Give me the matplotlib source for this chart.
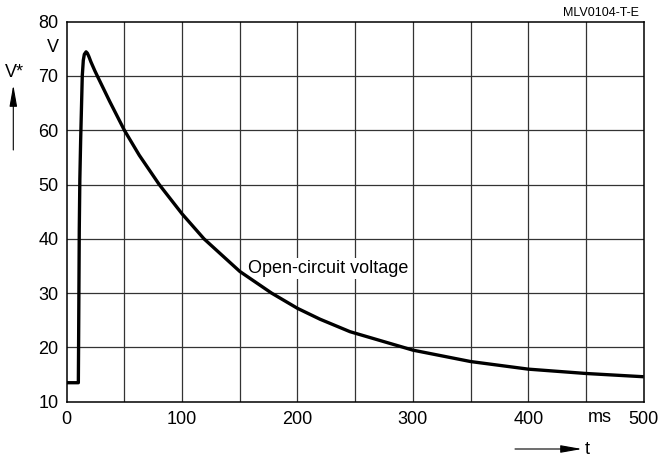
import matplotlib
matplotlib.use('Agg')
import matplotlib.pyplot as plt
from matplotlib.patches import FancyArrowPatch
import numpy as np

plt.rcParams['font.family'] = 'Liberation Sans'
fs_tick, fs_lab, fs_id = 13, 13, 9

# open-circuit voltage curve
t_ms = [0, 10.1, 10.3, 10.9, 11.4, 12.1, 13.5, 14.4, 15.3, 16.8, 17.9, 19.2,
        21, 24.3, 27, 37.3, 50, 62.9, 80.2, 100, 119, 150, 177.6, 200,
        219.5, 245.5, 300, 350, 400, 450, 500]
v_oc = [13.5, 13.5, 20, 41.6, 51, 58.2, 70, 72.9, 74.0, 74.45, 74.2, 73.6,
        72.6, 71.0, 69.8, 65.3, 60, 55.4, 50, 44.6, 40, 34.0, 30, 27.2,
        25.2, 22.9, 19.5, 17.4, 16.0, 15.2, 14.6]

x_labels = ['0', '100', '200', '300', '400', '500']
x_label_pos = [0, 100, 200, 300, 400, 500]
y_ticks = [10, 20, 30, 40, 50, 60, 70, 80]

fig = plt.figure(figsize=(6.59, 4.59), dpi=100)
ax = fig.add_axes([0.1012, 0.1248, 0.8756, 0.8279])

ax.set_xlim(0, 500)
ax.set_ylim(10, 80)

# grid every 50 ms / 10 V
for gx in np.arange(50, 500, 50):
    ax.axvline(gx, color='#333333', lw=0.9, zorder=1)
for gy in y_ticks[1:-1]:
    ax.axhline(gy, color='#333333', lw=0.9, zorder=1)

ax.plot(t_ms, v_oc, color='black', lw=2.4, solid_joinstyle='round',
        solid_capstyle='butt', zorder=3)

ax.set_xticks(x_label_pos)
ax.set_xticklabels(x_labels)
ax.set_yticks(y_ticks)
ax.tick_params(length=0, labelsize=fs_tick)
ax.tick_params(axis='y', pad=6)
ax.tick_params(axis='x', pad=7)
for s in ax.spines.values():
    s.set_linewidth(1.1)

ax.text(157, 34.6, 'Open-circuit voltage', fontsize=fs_lab, va='center',
        ha='left', zorder=2,
        bbox=dict(facecolor='white', edgecolor='none', pad=1.5))

# units
fig.text(58.5 / 659, 1 - 47 / 459, 'V', fontsize=fs_tick, ha='right',
         va='center')
fig.text(599.5 / 659, 1 - 417 / 459, 'ms', fontsize=fs_tick, ha='center',
         va='center')

# quantity labels with arrows
fig.text(14 / 659, 1 - 72.5 / 459, 'V*', fontsize=fs_tick, ha='center',
         va='center')
fig.add_artist(FancyArrowPatch(
    (13.3 / 659, 1 - 150 / 459), (13.3 / 659, 1 - 85 / 459),
    transform=fig.transFigure, arrowstyle='-|>,head_length=13,head_width=2.3',
    color='black', lw=0.8, shrinkA=0, shrinkB=0))
fig.text(587 / 659, 1 - 449 / 459, 't', fontsize=fs_tick, ha='center',
         va='center')
fig.add_artist(FancyArrowPatch(
    (515 / 659, 1 - 449 / 459), (582 / 659, 1 - 449 / 459),
    transform=fig.transFigure, arrowstyle='-|>,head_length=13,head_width=2.3',
    color='black', lw=0.8, shrinkA=0, shrinkB=0))

fig.text(639 / 659, 1 - 13 / 459, 'MLV0104-T-E', fontsize=fs_id, ha='right',
         va='center')

fig.savefig('out.png', dpi=100)
